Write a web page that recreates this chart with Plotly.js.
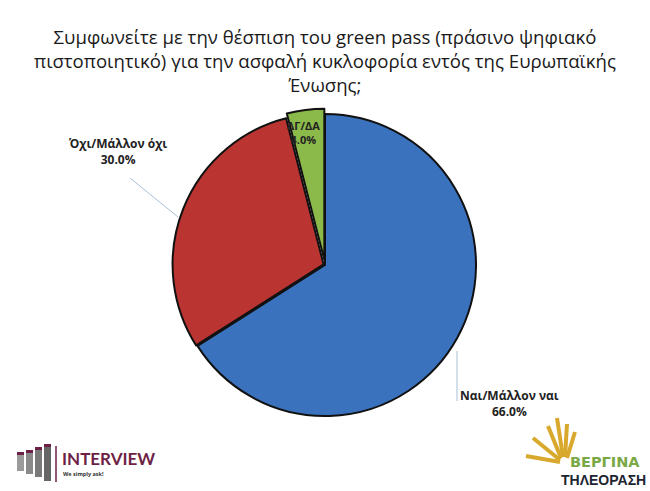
<!DOCTYPE html>
<html>
<head>
<meta charset="utf-8">
<script src="https://cdn.plot.ly/plotly-3.0.1.min.js"></script>
<style>html,body{margin:0;padding:0;background:#fff;}#chart{width:650px;height:491px;}</style>
</head>
<body>
<div id="chart"></div>
<script>
const categories = ["Ναι/Μάλλον ναι", "Όχι/Μάλλον όχι", "ΔΓ/ΔΑ"];
const values = [66.0, 30.0, 4.0];
const sliceColors = ["#3B72BD", "#BA3532", "#8CBA4A"];
const pulls = [0, 0.01, 0.035];
const titleText = "Συμφωνείτε με την θέσπιση του green pass (πράσινο ψηφιακό<br>πιστοποιητικό) για την ασφαλή κυκλοφορία εντός της Ευρωπαϊκής<br>Ένωσης;";

const W = 650, H = 491;
const cx = 325, cy = 265, R = 151;
const half = R * (1 + Math.max(...pulls));
const domX = [(cx - half) / W, (cx + half) / W];
const domY = [(H - cy - half) / H, (H - cy + half) / H];

const trace = {
  type: "pie",
  labels: categories,
  values: values,
  sort: false,
  direction: "clockwise",
  rotation: 0,
  pull: pulls,
  marker: {colors: sliceColors, line: {color: "#111111", width: 2}},
  textinfo: "none",
  hoverinfo: "label+percent",
  showlegend: false,
  domain: {x: domX, y: domY}
};

function lbl(i) { return "<b>" + categories[i] + "</b><br><b>" + values[i].toFixed(1) + "%</b>"; }
const lblFont = {family: "Open Sans, Noto Sans, sans-serif", size: 12, color: "#222"};
const px = (x) => x / W, py = (y) => 1 - y / H;
function ann(x, y, text, font, extra) {
  return Object.assign({x: px(x), y: py(y), xref: "paper", yref: "paper", text: text, showarrow: false,
    xanchor: "center", yanchor: "middle", font: font, align: "center"}, extra || {});
}

const annotations = [
  ann(509, 403, lbl(0), lblFont),
  ann(118, 151, lbl(1), lblFont),
  ann(303, 133, lbl(2), Object.assign({}, lblFont, {size: 11})),
  // logo texts
  ann(60, 458, "<b>INTERVIEW</b>", {family: "Lato, Open Sans, sans-serif", size: 17, color: "#6E1F45"}, {xanchor: "left"}),
  ann(61, 474, "<b>We simply ask!</b>", {family: "Open Sans, sans-serif", size: 5.5, color: "#333"}, {xanchor: "left"}),
  ann(605, 462, "<b>ΒΕΡΓΙΝΑ</b>", {family: "DejaVu Sans, sans-serif", size: 14.5, color: "#79A845"}),
  ann(603, 480, "<b>ΤΗΛΕΟΡΑΣΗ</b>", {family: "Liberation Sans Narrow, Liberation Sans, sans-serif", size: 14, color: "#1C2530"})
];

const shapes = [
  // leader lines
  {type: "line", xref: "paper", yref: "paper", x0: px(130), y0: py(178), x1: px(178), y1: py(217), line: {color: "#A9BFD9", width: 1}},
  {type: "line", xref: "paper", yref: "paper", x0: px(457), y0: py(351), x1: px(457), y1: py(401), line: {color: "#A9BFD9", width: 1}},
  // INTERVIEW logo bars
  {type: "rect", xref: "paper", yref: "paper", x0: px(17), x1: px(24), y0: py(455), y1: py(471), fillcolor: "#9A9A9A", line: {width: 0}},
  {type: "rect", xref: "paper", yref: "paper", x0: px(26), x1: px(33), y0: py(453), y1: py(474), fillcolor: "#8A8A8A", line: {width: 0}},
  {type: "rect", xref: "paper", yref: "paper", x0: px(35), x1: px(42), y0: py(450), y1: py(477), fillcolor: "#7A7A7A", line: {width: 0}},
  {type: "rect", xref: "paper", yref: "paper", x0: px(44), x1: px(51), y0: py(447), y1: py(481), fillcolor: "#666", line: {width: 0}},
  {type: "rect", xref: "paper", yref: "paper", x0: px(17), x1: px(24), y0: py(452), y1: py(455), fillcolor: "#6E1F45", line: {width: 0}},
  {type: "rect", xref: "paper", yref: "paper", x0: px(26), x1: px(33), y0: py(450), y1: py(453), fillcolor: "#6E1F45", line: {width: 0}},
  {type: "rect", xref: "paper", yref: "paper", x0: px(35), x1: px(42), y0: py(447), y1: py(450), fillcolor: "#6E1F45", line: {width: 0}},
  {type: "rect", xref: "paper", yref: "paper", x0: px(44), x1: px(51), y0: py(444), y1: py(447), fillcolor: "#6E1F45", line: {width: 0}},
  {type: "line", xref: "paper", yref: "paper", x0: px(56), x1: px(56), y0: py(446), y1: py(482), line: {color: "#6E1F45", width: 1.5}}
];
// Vergina sun rays
const rays = [[560,462,526,456],[560,460,533,438],[561,458,548,426],[563,457,557,418],[565,457,567,424],[567,458,575,432]];
rays.forEach(r => shapes.push({type: "line", xref: "paper", yref: "paper", x0: px(r[0]), y0: py(r[1]), x1: px(r[2]), y1: py(r[3]), line: {color: "#D9A92E", width: 4}}));

const layout = {
  width: W, height: H,
  margin: {l: 0, r: 0, t: 0, b: 0},
  paper_bgcolor: "#ffffff",
  title: {text: titleText, x: 0.5, xanchor: "center", y: 1 - 44/H, yanchor: "top", yref: "container",
          font: {family: "Open Sans, sans-serif", size: 18.6, color: "#1a1a1a"}},
  annotations: annotations,
  shapes: shapes
};

Plotly.newPlot("chart", [trace], layout, {displayModeBar: false, staticPlot: true});
</script>
</body>
</html>
